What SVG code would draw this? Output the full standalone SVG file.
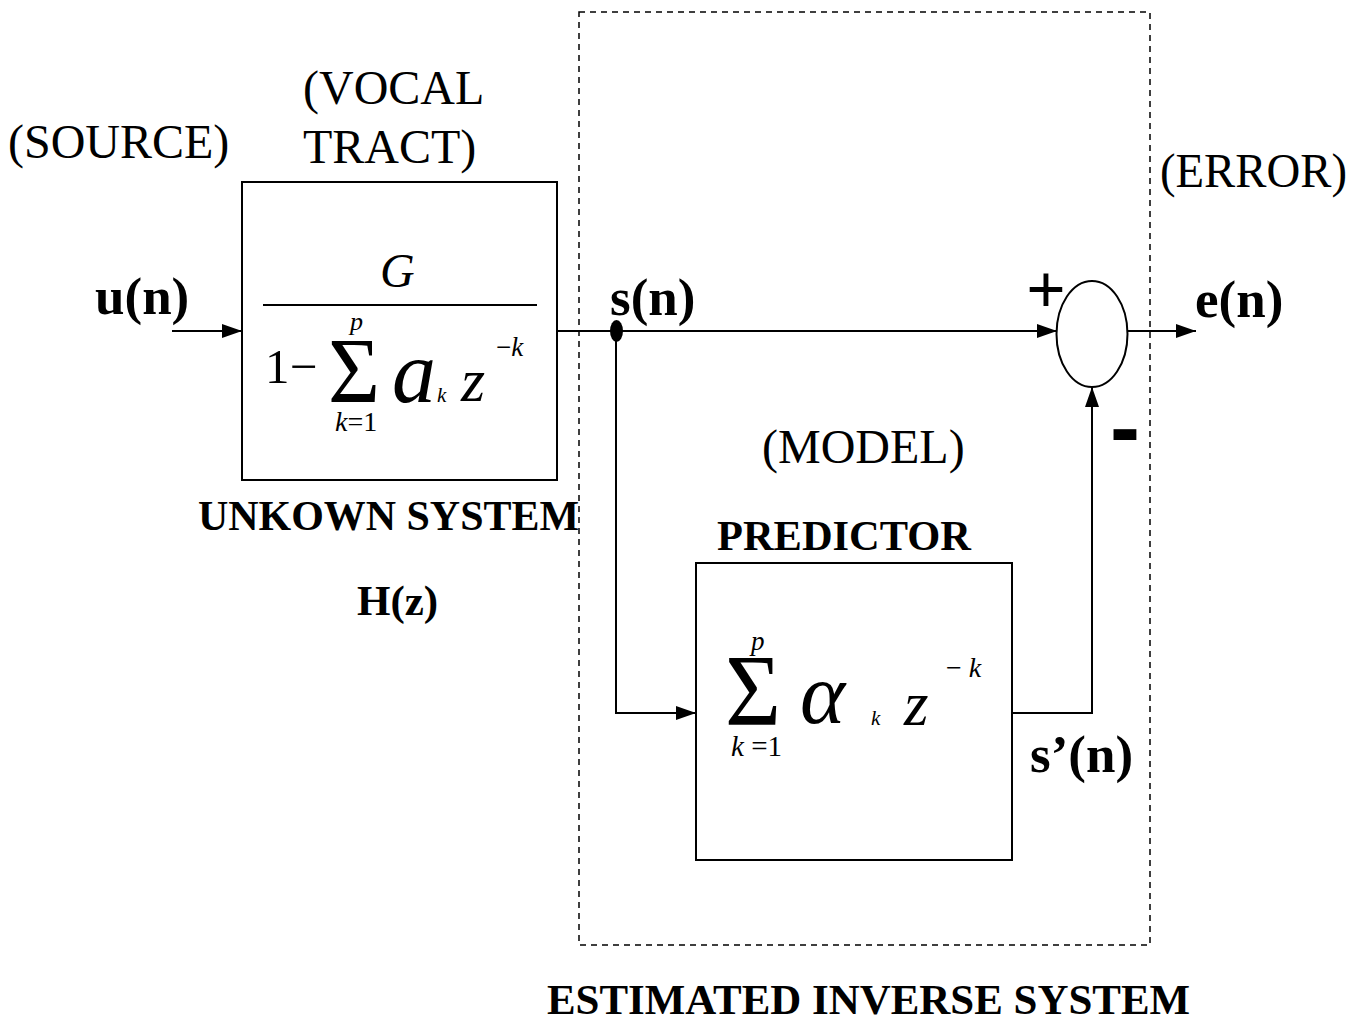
<svg xmlns="http://www.w3.org/2000/svg" width="1357" height="1023" viewBox="0 0 1357 1023">
<style>
text{font-family:"Liberation Serif","Times New Roman",serif;fill:#000}
.lbl{font-size:48px}
.blbl{font-size:53px;font-weight:bold}
.b{font-weight:bold;font-size:43px}
.it{font-style:italic}
.box{fill:#fff;stroke:#000;stroke-width:2}
.ln{fill:none;stroke:#000;stroke-width:2}
</style>
<defs>
<marker id="ah" viewBox="0 0 20 14" refX="20" refY="7" markerWidth="20" markerHeight="14" markerUnits="userSpaceOnUse" orient="auto">
<path d="M0,0 L20,7 L0,14 Z" fill="#000"/>
</marker>
</defs>
<rect id="boundary" x="579" y="12" width="571" height="933" fill="none" stroke="#000" stroke-width="1.5" stroke-dasharray="6,5"/>
<g id="connectors">
<line class="ln" x1="172" y1="331" x2="242" y2="331" marker-end="url(#ah)"/>
<line class="ln" x1="557" y1="331" x2="1057" y2="331" marker-end="url(#ah)"/>
<polyline class="ln" points="616,331 616,713 696,713" marker-end="url(#ah)"/>
<polyline class="ln" points="1012,713 1092,713 1092,387" marker-end="url(#ah)"/>
<line class="ln" x1="1128" y1="331" x2="1196" y2="331" marker-end="url(#ah)"/>
<ellipse cx="616.5" cy="331" rx="6.5" ry="11" fill="#000"/>
</g>
<g id="unknown-system">
<rect class="box" x="242" y="182" width="315" height="298"/>
<text class="it" x="380" y="287" font-size="48">G</text>
<line x1="263" y1="305" x2="537" y2="305" stroke="#000" stroke-width="2"/>
<text x="265" y="383" font-size="49">1</text>
<text x="290" y="383" font-size="49">−</text>
<text x="328" y="402" font-size="94" textLength="52" lengthAdjust="spacingAndGlyphs">Σ</text>
<text class="it" x="350" y="330" font-size="26">p</text>
<text x="335" y="431" font-size="28"><tspan font-style="italic">k</tspan>=1</text>
<text class="it" x="392" y="402" font-size="88">a</text>
<text class="it" x="437" y="402" font-size="21">k</text>
<text class="it" x="461" y="401" font-size="62">z</text>
<text x="496" y="356" font-size="27">−<tspan font-style="italic">k</tspan></text>
</g>
<g id="predictor">
<rect class="box" x="696" y="563" width="316" height="297"/>
<text x="725" y="725" font-size="102" textLength="56" lengthAdjust="spacingAndGlyphs">Σ</text>
<text class="it" x="751" y="650" font-size="27">p</text>
<text x="731" y="756" font-size="29"><tspan font-style="italic">k</tspan> =1</text>
<text class="it" x="800" y="723" font-size="86">α</text>
<text class="it" x="871" y="725" font-size="21">k</text>
<text class="it" x="904" y="725" font-size="63">z</text>
<text x="946" y="677" font-size="28">− <tspan font-style="italic">k</tspan></text>
</g>
<g id="summer">
<ellipse cx="1092" cy="334" rx="35.5" ry="53" fill="#fff" stroke="#000" stroke-width="2"/>
<text x="1046" y="313" font-size="70" font-weight="bold" text-anchor="middle">+</text>
<text x="1125" y="458" font-size="90" font-weight="bold" text-anchor="middle" style="font-family:'Liberation Sans',Arial,sans-serif">-</text>
</g>
<g id="labels">
<text class="lbl" x="8" y="158">(SOURCE)</text>
<text class="lbl" x="303" y="104">(VOCAL</text>
<text class="lbl" x="303" y="163">TRACT)</text>
<text class="lbl" x="1160" y="187" textLength="187" lengthAdjust="spacingAndGlyphs">(ERROR)</text>
<text class="lbl" x="762" y="463">(MODEL)</text>
<text class="blbl" x="95" y="314">u(n)</text>
<text class="blbl" x="610" y="315">s(n)</text>
<text class="blbl" x="1195" y="317">e(n)</text>
<text class="blbl" x="1030" y="772">s’(n)</text>
<text class="b" x="198" y="530" textLength="381" lengthAdjust="spacingAndGlyphs">UNKOWN SYSTEM</text>
<text class="b" x="717" y="550" textLength="254" lengthAdjust="spacingAndGlyphs">PREDICTOR</text>
<text class="b" x="357" y="615">H(z)</text>
<text class="b" x="547" y="1014" textLength="643" lengthAdjust="spacingAndGlyphs">ESTIMATED INVERSE SYSTEM</text>
</g>
</svg>
